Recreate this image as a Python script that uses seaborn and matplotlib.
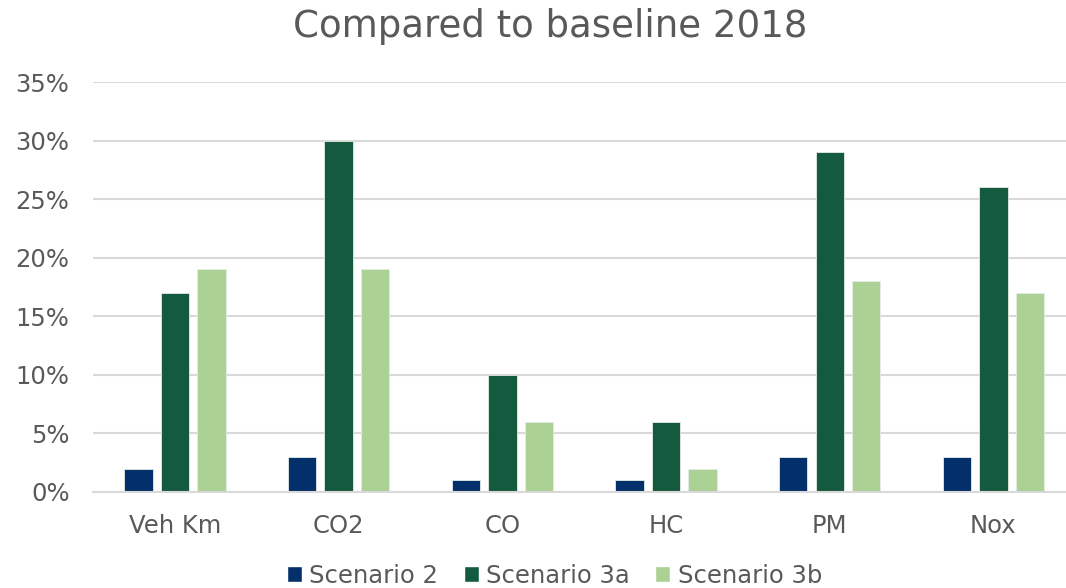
import pandas as pd
import matplotlib.pyplot as plt
import seaborn as sns
from matplotlib.ticker import PercentFormatter
from matplotlib.patches import Patch

# Values (percent change vs 2018 baseline)
categories = ['Veh Km', 'CO2', 'CO', 'HC', 'PM', 'Nox']
scenario_2 = [0.02, 0.03, 0.01, 0.01, 0.03, 0.03]
scenario_3a = [0.17, 0.30, 0.10, 0.06, 0.29, 0.26]
scenario_3b = [0.19, 0.19, 0.06, 0.02, 0.18, 0.17]
series_names = ['Scenario 2', 'Scenario 3a', 'Scenario 3b']
colors = ['#03306B', '#145A3F', '#ABD194']

df = pd.DataFrame({'category': categories * 3,
                   'value': scenario_2 + scenario_3a + scenario_3b,
                   'scenario': [s for s in series_names for _ in categories]})

sns.set_style('white')
plt.rcParams['font.family'] = ['DejaVu Sans']
text_col = '#595959'

fig = plt.figure(figsize=(10.66, 5.88), dpi=100)
# plot area runs slightly past the right edge, as in the original
ax = fig.add_axes([0.0874, 0.1633, 0.9213, 0.6972])

sns.barplot(data=df, x='category', y='value', hue='scenario', palette=colors,
            saturation=1, width=0.669, gap=0.22, ax=ax, legend=False,
            edgecolor='#e4ece4', linewidth=0.6)

ax.set_xlim(-0.5, 5.5)
ax.set_ylim(0, 0.35)
ax.set_yticks([i * 0.05 for i in range(8)])
ax.yaxis.set_major_formatter(PercentFormatter(1.0, decimals=0))
ax.grid(axis='y', color='#D9D9D9', linewidth=1.5)
ax.set_axisbelow(True)
for s in ['top', 'right', 'left']:
    ax.spines[s].set_visible(False)
ax.spines['bottom'].set_color('#D9D9D9')
ax.spines['bottom'].set_linewidth(1.5)
ax.tick_params(length=0, labelsize=17.5, colors=text_col)
ax.tick_params(axis='x', pad=16)
ax.tick_params(axis='y', pad=17)
ax.set_xlabel('')
ax.set_ylabel('')

fig.text(0.516, 0.937, 'Compared to baseline 2018', ha='center', va='baseline',
         fontsize=26.7, color=text_col)

handles = [Patch(facecolor=c, label=n) for c, n in zip(colors, series_names)]
fig.legend(handles=handles, loc='lower center', ncol=3, frameon=False,
           fontsize=17.5, labelcolor=text_col, bbox_to_anchor=(0.52, -0.037),
           handlelength=0.62, handleheight=0.62, handletextpad=0.3, columnspacing=1.05)

fig.savefig('out.png', dpi=100)
